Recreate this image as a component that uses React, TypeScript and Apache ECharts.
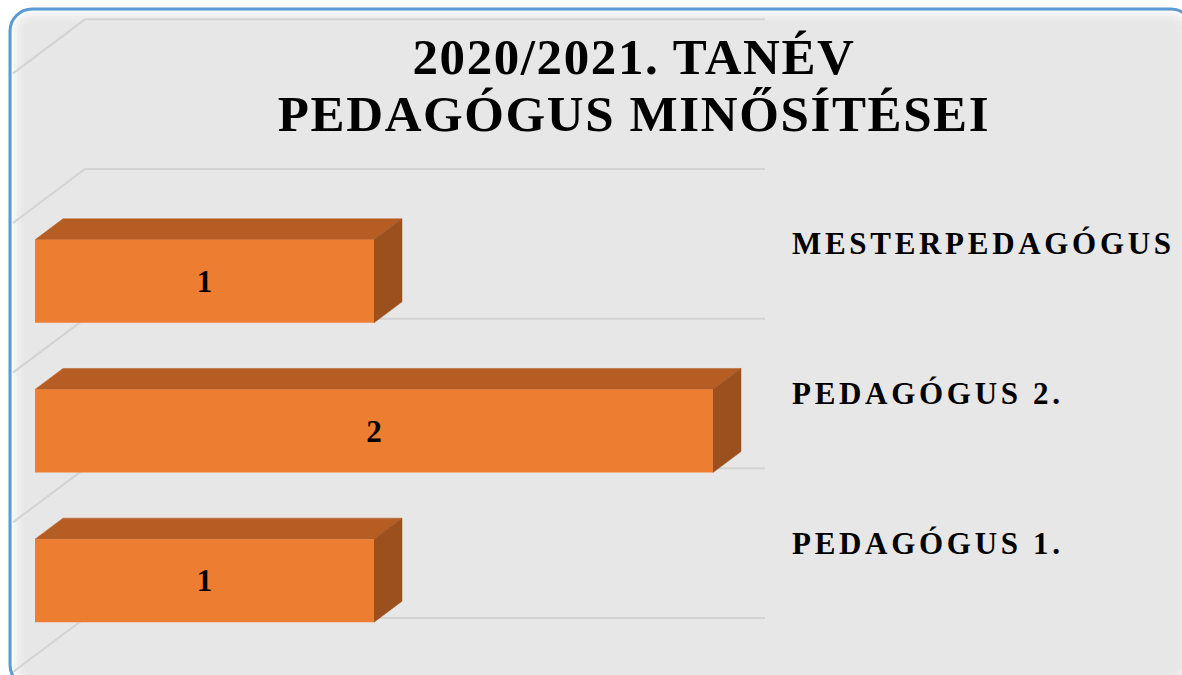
import React, { useEffect, useRef } from 'react';
import * as echarts from 'echarts';

// ---- data ----
const categories: string[] = ['PEDAGÓGUS 1.', 'PEDAGÓGUS 2.', 'MESTERPEDAGÓGUS'];
const values: number[] = [1, 2, 1];
const titleLines: string[] = ['2020/2021. TANÉV', 'PEDAGÓGUS MINŐSÍTÉSEI'];
const valueMin = 0;
const valueMax = 2;

// ---- 3D look (styles) ----
const FRONT_DX = -50; // front face of bars relative to back wall
const FRONT_DY = 37.5;
const DEPTH_DX = 28; // bar depth
const DEPTH_DY = -21;
const WALL_DX = -72; // floor/side diagonal
const WALL_DY = 54;
const SERIF = '"Liberation Serif", "Times New Roman", serif';

export default function App() {
  const ref = useRef<HTMLDivElement>(null);

  useEffect(() => {
    if (!ref.current) return;
    const chart = echarts.init(ref.current, null, { renderer: 'svg' });

    const glow = [3, 6, 9, 12].map((k, idx) => ({
      type: 'rect',
      z: -9,
      silent: true,
      shape: { x: 10 + k, y: 9 + k, width: 1183 - 2 * k, height: 678 - 2 * k, r: Math.max(4, 22 - k) },
      style: { fill: 'none', stroke: `rgba(255,255,255,${[0.7, 0.45, 0.25, 0.1][idx]})`, lineWidth: 3 },
    }));

    chart.setOption({
      animation: false,
      backgroundColor: '#ffffff',
      graphic: [
        {
          type: 'rect',
          z: -10,
          silent: true,
          shape: { x: 10, y: 9, width: 1183, height: 678, r: 22 },
          style: { fill: '#e7e7e7', stroke: 'none' },
        },
        ...glow,
        {
          type: 'rect',
          z: 100,
          silent: true,
          shape: { x: 10, y: 9, width: 1183, height: 678, r: 22 },
          style: { fill: 'none', stroke: '#5B9BD5', lineWidth: 3 },
        },
      ],
      title: {
        text: titleLines.join('\n'),
        left: 634,
        top: 28,
        padding: 0,
        textAlign: 'center',
        textStyle: {
          fontFamily: SERIF,
          fontWeight: 'bold',
          fontSize: 51,
          lineHeight: 57,
          color: '#000000',
        },
      },
      grid: { left: 85, right: 419, top: 169, bottom: 57, containLabel: false },
      xAxis: { type: 'value', min: valueMin, max: valueMax, show: false },
      yAxis: {
        type: 'category',
        data: categories,
        position: 'right',
        axisLine: { show: false },
        axisTick: { show: false },
        splitLine: { show: false },
        axisLabel: {
          margin: 29,
          align: 'left',
          fontFamily: SERIF,
          fontWeight: 'bold',
          fontSize: 31,
          color: '#000000',
        },
      },
      series: [
        {
          name: 'wall',
          type: 'custom',
          silent: true,
          clip: false,
          z: 1,
          data: values.map((v, i) => [v, i]),
          encode: { x: 0, y: 1 },
          renderItem: (params: any, api: any) => {
            const i = api.value(1);
            const [x0, yc] = api.coord([valueMin, i]);
            const [x1] = api.coord([valueMax, i]);
            const band = api.size([0, 1])[1];
            const ys = [yc + band / 2];
            if (i === categories.length - 1) ys.push(yc - band / 2, yc - band * 1.5);
            const children: any[] = [];
            ys.forEach((y) => {
              children.push({
                type: 'line',
                shape: { x1: x0, y1: y, x2: x1 + 2, y2: y },
                style: { stroke: '#d3d3d3', lineWidth: 2 },
              });
              children.push({
                type: 'line',
                shape: { x1: x0, y1: y, x2: x0 + WALL_DX, y2: y + WALL_DY },
                style: { stroke: '#d3d3d3', lineWidth: 2 },
              });
            });
            return { type: 'group', children };
          },
        },
        {
          name: 'Minősítések',
          type: 'custom',
          clip: false,
          z: 3,
          data: values.map((v, i) => [v, i]),
          encode: { x: 0, y: 1 },
          renderItem: (params: any, api: any) => {
            const v = api.value(0);
            const i = api.value(1);
            const [xv, yc] = api.coord([v, i]);
            const [x0] = api.coord([valueMin, i]);
            const band = api.size([0, 1])[1];
            const h = band * 0.555;
            const fx0 = x0 + FRONT_DX;
            const fx1 = xv + FRONT_DX;
            const fy0 = yc + FRONT_DY - h / 2;
            const fy1 = fy0 + h;
            return {
              type: 'group',
              children: [
                {
                  type: 'polygon',
                  shape: {
                    points: [
                      [fx0, fy0],
                      [fx0 + DEPTH_DX, fy0 + DEPTH_DY],
                      [fx1 + DEPTH_DX, fy0 + DEPTH_DY],
                      [fx1, fy0],
                    ],
                  },
                  style: { fill: '#B55D23', stroke: '#B55D23', lineWidth: 0.5 },
                },
                {
                  type: 'polygon',
                  shape: {
                    points: [
                      [fx1, fy0],
                      [fx1 + DEPTH_DX, fy0 + DEPTH_DY],
                      [fx1 + DEPTH_DX, fy1 + DEPTH_DY],
                      [fx1, fy1],
                    ],
                  },
                  style: { fill: '#9C501E', stroke: '#9C501E', lineWidth: 0.5 },
                },
                {
                  type: 'rect',
                  shape: { x: fx0, y: fy0, width: fx1 - fx0, height: h },
                  style: { fill: '#ED7D31' },
                },
                {
                  type: 'text',
                  style: {
                    text: String(v),
                    x: (fx0 + fx1) / 2,
                    y: (fy0 + fy1) / 2,
                    align: 'center',
                    verticalAlign: 'middle',
                    fontFamily: SERIF,
                    fontWeight: 'bold',
                    fontSize: 31,
                    fill: '#000000',
                  },
                },
              ],
            };
          },
        },
      ],
    });

    const applySpacing = () => {
      ref.current?.querySelectorAll('text').forEach((t) => {
        const s = t.textContent ?? '';
        if (categories.includes(s)) {
          t.setAttribute('letter-spacing', '3.7');
        } else if (titleLines.includes(s)) {
          t.setAttribute('letter-spacing', '1.6');
        }
      });
    };
    applySpacing();
    chart.on('finished', applySpacing);

    return () => {
      chart.dispose();
    };
  }, []);

  return (
    <div
      ref={ref}
      style={{ position: 'fixed', left: 0, top: 0, width: 1182, height: 675 }}
    />
  );
}
